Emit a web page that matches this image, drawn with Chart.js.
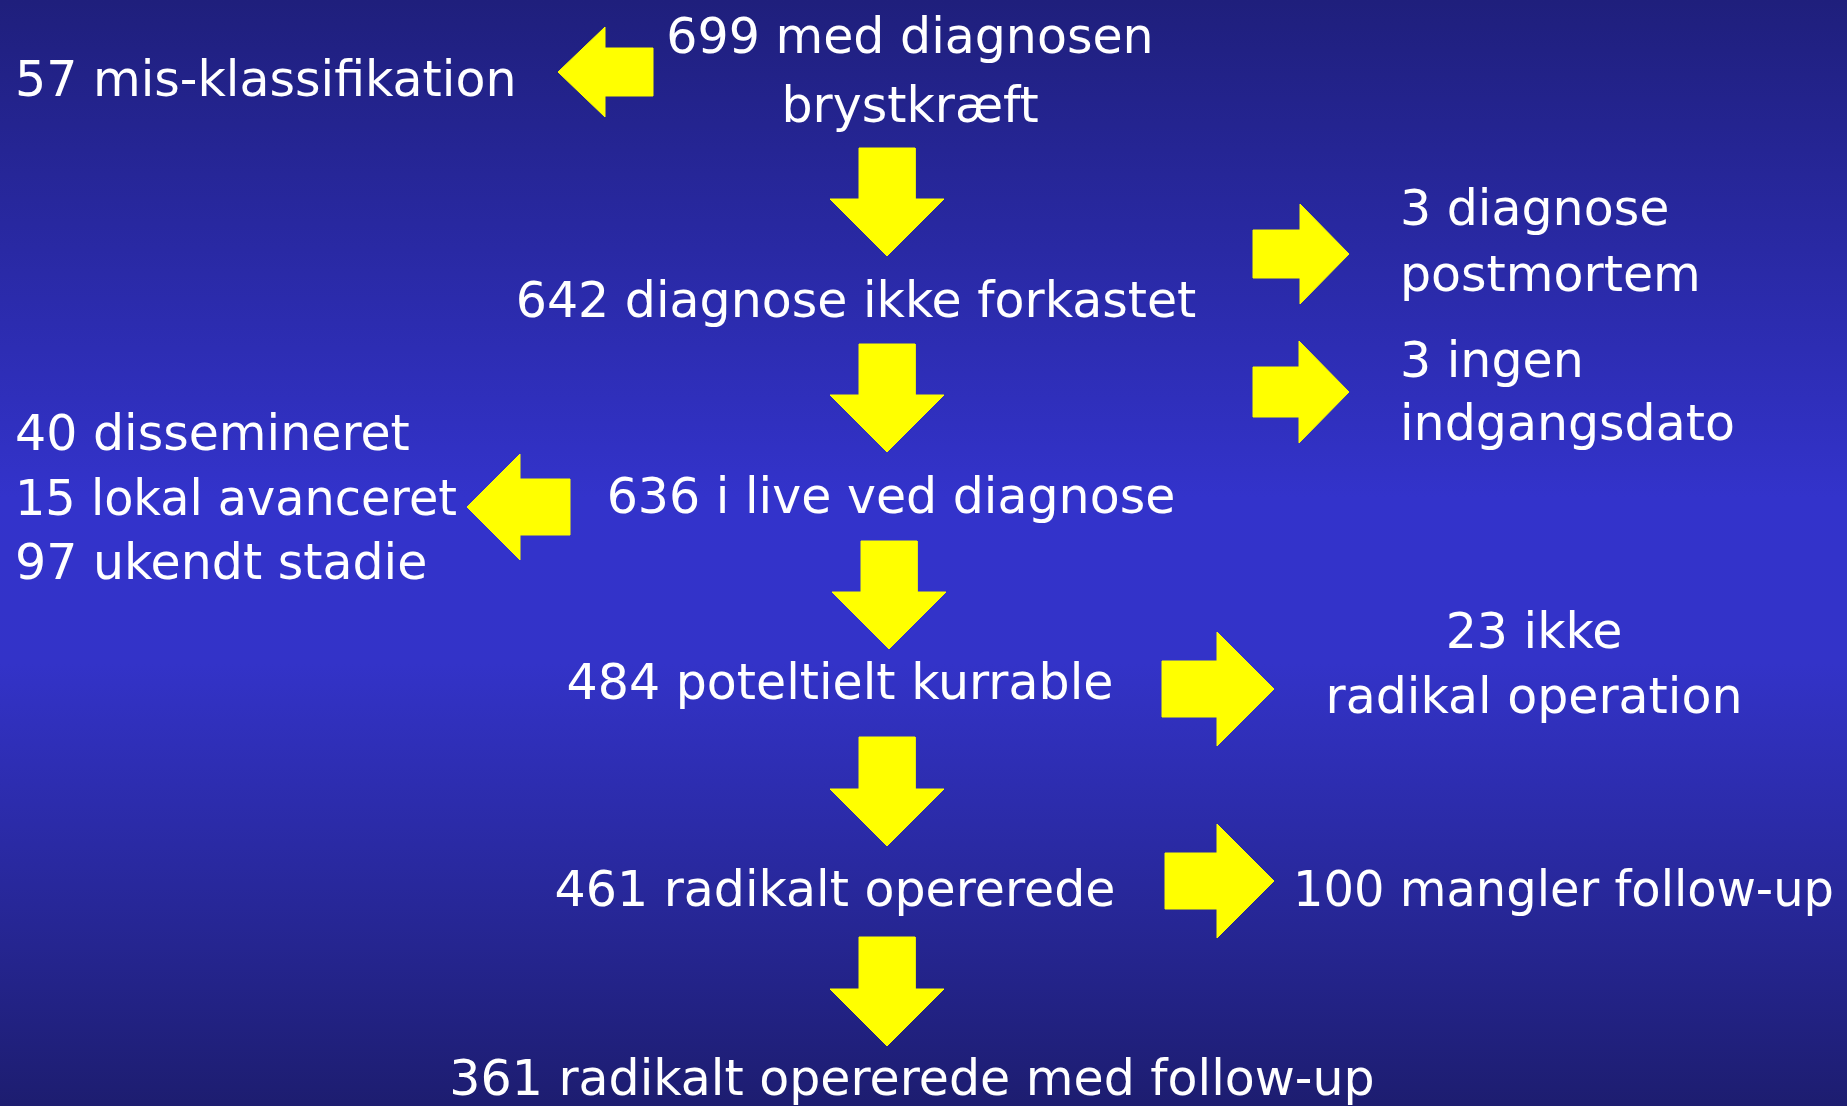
<!DOCTYPE html>
<html lang="da">
<head>
<meta charset="utf-8">
<title>Brystkræft – flowchart</title>
<script src="https://cdn.jsdelivr.net/npm/chart.js@4.4.1/dist/chart.umd.min.js"></script>
<style>
  html, body { margin: 0; padding: 0; background: #1f1f7d; overflow: hidden; }
  #wrap { width: 1847px; height: 1106px; position: relative; }
</style>
</head>
<body>
<div id="wrap"><canvas id="flow"></canvas></div>
<script>
/* ======================================
   DATA
====================================== */
const stageCounts = [699, 642, 636, 484, 461, 361];
const stageLabels = [
  ["med diagnosen", "brystkræft"],
  ["diagnose ikke forkastet"],
  ["i live ved diagnose"],
  ["poteltielt kurrable"],
  ["radikalt opererede"],
  ["radikalt opererede med follow-up"]
];
const exclusionCounts = [57, 3, 3, 40, 15, 97, 23, 100];
const exclusionLabels = [
  ["mis-klassifikation"],
  ["diagnose", "postmortem"],
  ["ingen", "indgangsdato"],
  ["dissemineret"],
  ["lokal avanceret"],
  ["ukendt stadie"],
  ["ikke", "radikal operation"],
  ["mangler follow-up"]
];

/* ======================================
   LAYOUT (slide units, y grows downward)
====================================== */
const W = 1847, H = 1106;
const stagePos = [
  { x: 910, y: 53, dy: 69 },
  { x: 856, y: 317 },
  { x: 891, y: 513 },
  { x: 840, y: 699 },
  { x: 835, y: 906 },
  { x: 912, y: 1095 }
];
const exclusionPos = [
  { x: 15, y: 96, align: "left" },
  { x: 1400, y: 225, dy: 66, align: "left" },
  { x: 1400, y: 377, dy: 63, align: "left" },
  { x: 15, y: 450, align: "left" },
  { x: 15, y: 515, align: "left", maxW: 442 },
  { x: 15, y: 579, align: "left" },
  { x: 1534, y: 648, dy: 65, align: "center" },
  { x: 1293, y: 906, align: "left", maxW: 541 }
];
// arrows between the stages
const downArrows = [
  { x: 887, top: 148, tip: 256 },
  { x: 887, top: 344, tip: 452 },
  { x: 889, top: 541, tip: 649 },
  { x: 887, top: 737, tip: 846 },
  { x: 887, top: 937, tip: 1046 }
];
// arrows to the exclusions (tail -> neck -> tip along x)
const sideArrows = [
  { tail: 653, neck: 605, tip: 558, y: 72, shaft: 24, head: 45 },
  { tail: 1253, neck: 1300, tip: 1349, y: 254, shaft: 24, head: 50 },
  { tail: 1253, neck: 1299, tip: 1349, y: 392, shaft: 25, head: 51 },
  { tail: 570, neck: 520, tip: 467, y: 507, shaft: 28, head: 53 },
  { tail: 1162, neck: 1217, tip: 1274, y: 689, shaft: 28, head: 57 },
  { tail: 1165, neck: 1217, tip: 1274, y: 881, shaft: 28, head: 57 }
];

const YELLOW = "#ffff00";
const FONT = '49px "DejaVu Sans", "Noto Sans", sans-serif';

function downOutline(a) {
  const s = 28, h = 57, neck = a.tip - 57;
  return [
    { x: a.x - s, y: a.top }, { x: a.x + s, y: a.top }, { x: a.x + s, y: neck },
    { x: a.x + h, y: neck }, { x: a.x, y: a.tip }, { x: a.x - h, y: neck },
    { x: a.x - s, y: neck }, { x: a.x - s, y: a.top }
  ];
}
function sideOutline(a) {
  return [
    { x: a.tail, y: a.y - a.shaft }, { x: a.neck, y: a.y - a.shaft }, { x: a.neck, y: a.y - a.head },
    { x: a.tip, y: a.y }, { x: a.neck, y: a.y + a.head }, { x: a.neck, y: a.y + a.shaft },
    { x: a.tail, y: a.y + a.shaft }, { x: a.tail, y: a.y - a.shaft }
  ];
}
const arrowSets = downArrows.map(downOutline).concat(sideArrows.map(sideOutline)).map(pts => ({
  data: pts,
  showLine: true,
  fill: "shape",
  backgroundColor: YELLOW,
  borderColor: YELLOW,
  borderWidth: 1,
  pointRadius: 0,
  tension: 0
}));

/* ======================================
   PLUGINS: background + labels
====================================== */
const slideBackground = {
  id: "slideBackground",
  beforeDraw(chart) {
    const { ctx, chartArea: a } = chart;
    const g = ctx.createLinearGradient(0, a.top, 0, a.bottom);
    g.addColorStop(0, "#1f1f7c");
    g.addColorStop(0.45, "#3333cb");
    g.addColorStop(0.6, "#3333c8");
    g.addColorStop(1, "#1d1d70");
    ctx.save();
    ctx.fillStyle = g;
    ctx.fillRect(a.left, a.top, a.right - a.left, a.bottom - a.top);
    ctx.restore();
  }
};

function drawBlock(chart, count, lines, pos) {
  const { ctx, scales: { x, y } } = chart;
  ctx.textAlign = pos.align || "center";
  lines.forEach((line, i) => {
    const txt = i === 0 ? count + " " + line : line;
    const px = x.getPixelForValue(pos.x);
    const py = y.getPixelForValue(pos.y + i * (pos.dy || 65));
    if (pos.maxW) ctx.fillText(txt, px, py, pos.maxW);
    else ctx.fillText(txt, px, py);
  });
}

const flowLabels = {
  id: "flowLabels",
  afterDatasetsDraw(chart) {
    const ctx = chart.ctx;
    ctx.save();
    ctx.font = FONT;
    ctx.fillStyle = "#ffffff";
    ctx.textBaseline = "alphabetic";
    stageCounts.forEach((c, i) => drawBlock(chart, c, stageLabels[i], stagePos[i]));
    exclusionCounts.forEach((c, i) => drawBlock(chart, c, exclusionLabels[i], exclusionPos[i]));
    ctx.restore();
  }
};

/* ======================================
   CHART
====================================== */
new Chart(document.getElementById("flow"), {
  type: "scatter",
  data: { datasets: arrowSets },
  plugins: [slideBackground, flowLabels],
  options: {
    responsive: true,
    maintainAspectRatio: false,
    animation: false,
    events: [],
    layout: { padding: 0 },
    plugins: { legend: { display: false }, tooltip: { enabled: false } },
    scales: {
      x: { type: "linear", min: 0, max: W, display: false },
      y: { type: "linear", min: 0, max: H, reverse: true, display: false }
    }
  }
});
</script>
</body>
</html>
